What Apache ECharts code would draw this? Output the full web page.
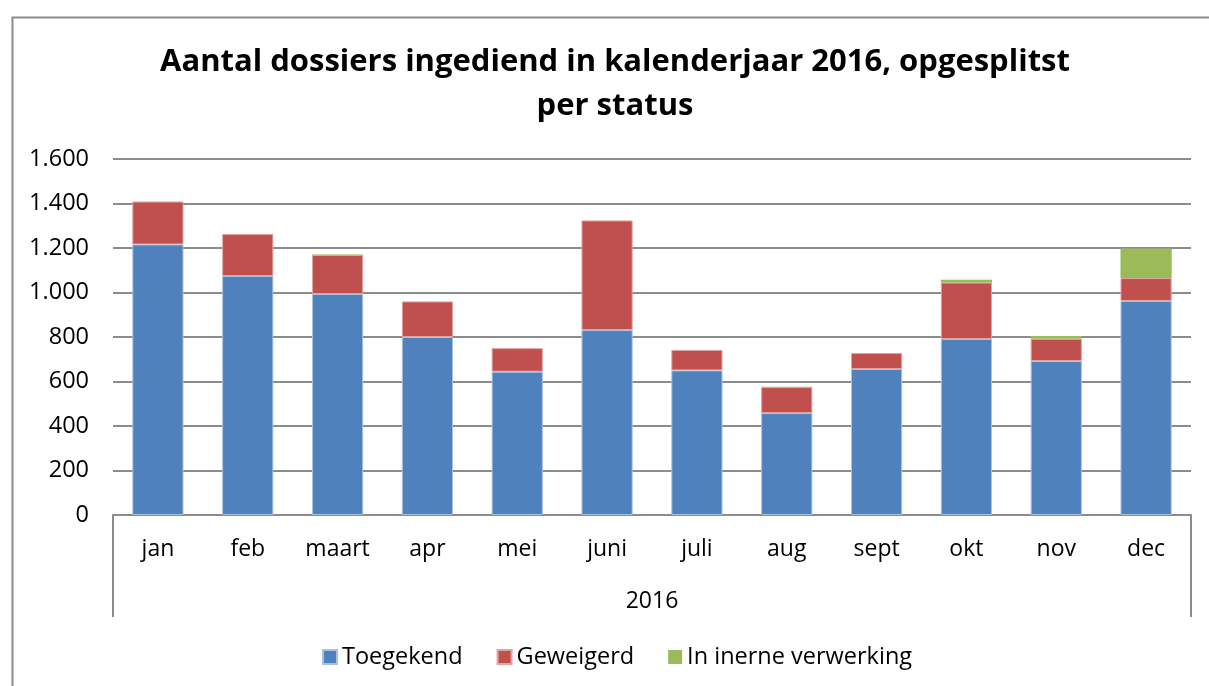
<!DOCTYPE html>
<html>
<head>
<meta charset="utf-8">
<script src="https://cdn.jsdelivr.net/npm/echarts@6/dist/echarts.min.js"></script>
<style>
  html, body { margin: 0; padding: 0; background: #fff; overflow: hidden; }
  #main { width: 1209px; height: 686px; }
</style>
</head>
<body>
<div id="main"></div>
<script>
// maanden + waarden
var maanden = ['jan', 'feb', 'maart', 'apr', 'mei', 'juni', 'juli', 'aug', 'sept', 'okt', 'nov', 'dec'];
var jaar = ['2016'];
var toegekend = [1216, 1074, 993, 800, 644, 831, 650, 458, 656, 791, 692, 962];
var geweigerd = [193, 189, 176, 160, 106, 493, 92, 117, 72, 254, 100, 103];
var inVerwerking = [0, 0, 2, 0, 0, 0, 0, 1, 0, 12, 12, 133];
var yTicks = { min: 0, max: 1600, interval: 200 };

var chart = echarts.init(document.getElementById('main'));
var fontName = '"Open Sans", Lato, sans-serif';

function fmt(v) {
  // 1600 -> 1.600
  return String(v).replace(/\B(?=(\d{3})+(?!\d))/g, '.');
}

var option = {
  backgroundColor: '#fff',
  animation: false,
  title: {
    text: 'Aantal dossiers ingediend in kalenderjaar 2016, opgesplitst\nper status',
    left: 610,
    textAlign: 'center',
    top: 35,
    textStyle: {
      fontFamily: fontName,
      fontWeight: 'bold',
      fontSize: 31,
      lineHeight: 44,
      color: '#000'
    }
  },
  legend: {
    bottom: 12,
    left: 317,
    itemWidth: 14,
    itemHeight: 14,
    itemGap: 34,
    icon: 'rect',
    textStyle: { fontFamily: fontName, fontSize: 23.5, color: '#000' },
    data: ['Toegekend', 'Geweigerd', 'In inerne verwerking']
  },
  grid: {
    left: 113,
    right: 18,
    top: 159,
    bottom: 171
  },
  xAxis: [{
    type: 'category',
    data: maanden,
    axisLine: { lineStyle: { color: '#8c8c8c', width: 2 } },
    axisTick: { show: false },
    axisLabel: { fontFamily: fontName, fontSize: 23, color: '#000', margin: 23 }
  }, {
    type: 'category',
    data: jaar,
    position: 'bottom',
    axisLine: { show: false },
    axisTick: { show: true, length: 102, lineStyle: { color: '#8c8c8c', width: 2 } },
    axisLabel: { fontFamily: fontName, fontSize: 23, color: '#000', margin: 75 },
    splitLine: { show: false }
  }],
  yAxis: {
    type: 'value',
    min: yTicks.min,
    max: yTicks.max,
    interval: yTicks.interval,
    axisLine: { show: false },
    axisTick: { show: false },
    axisLabel: {
      fontFamily: fontName, fontSize: 23.5, color: '#000', margin: 24,
      formatter: fmt
    },
    splitLine: { lineStyle: { color: '#8c8c8c', width: 2 } }
  },
  series: [{
    name: 'Toegekend',
    type: 'bar',
    stack: 'totaal',
    data: toegekend,
    barWidth: '57%',
    itemStyle: { color: '#4f81bd', borderColor: '#a9c1e0', borderWidth: 1 }
  }, {
    name: 'Geweigerd',
    type: 'bar',
    stack: 'totaal',
    data: geweigerd,
    itemStyle: { color: '#c0504d', borderColor: '#e0a5a3', borderWidth: 1 }
  }, {
    name: 'In inerne verwerking',
    type: 'bar',
    stack: 'totaal',
    data: inVerwerking,
    itemStyle: { color: '#9bbb59' }
  }],
  graphic: [{
    // kader van de grafiek (rechts/onder buiten beeld)
    type: 'rect',
    left: 10,
    top: 15,
    shape: { width: 1300, height: 800 },
    style: { fill: 'none', stroke: '#8c8c8c', lineWidth: 2 },
    silent: true,
    z: -1
  }]
};

chart.setOption(option);
</script>
</body>
</html>
